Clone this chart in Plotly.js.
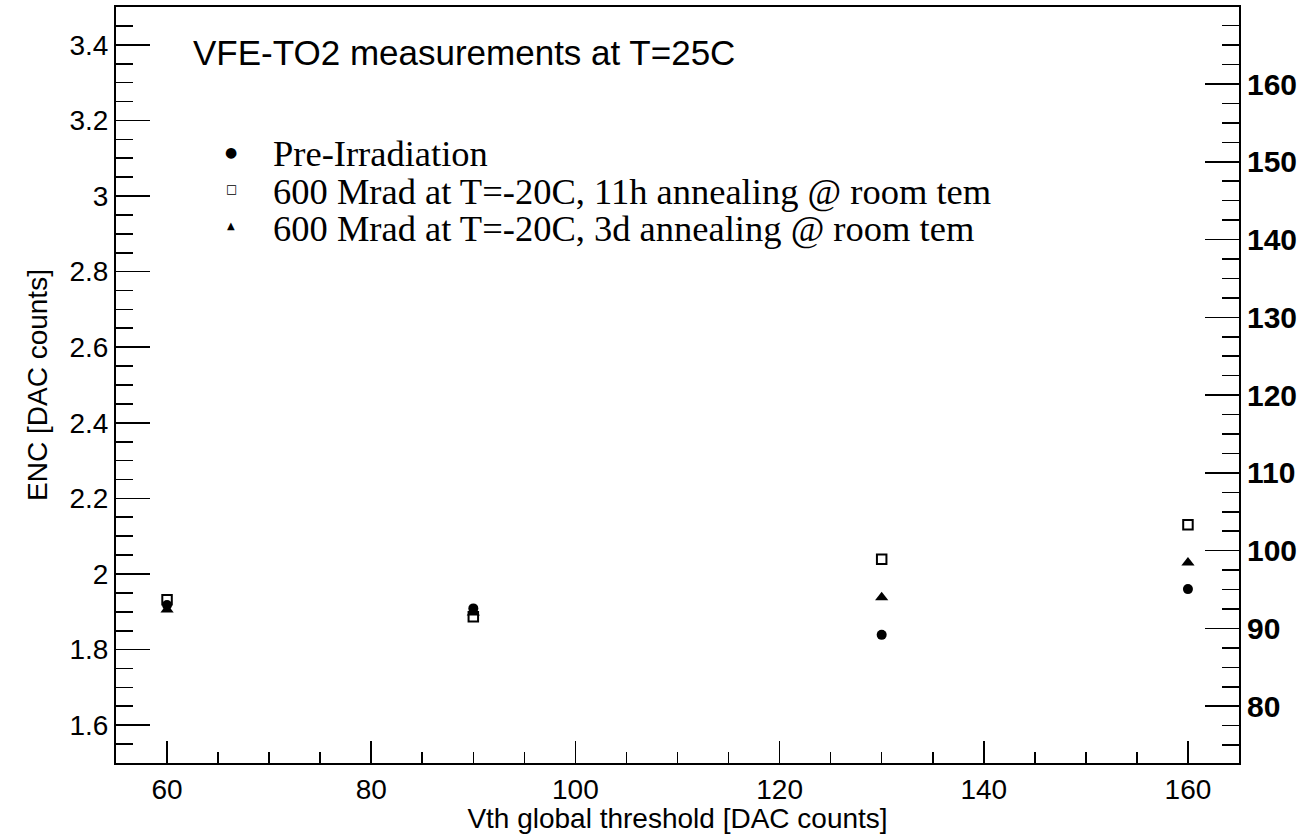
<!DOCTYPE html>
<html>
<head>
<meta charset="utf-8">
<script src="https://cdn.plot.ly/plotly-3.0.1.min.js"></script>
<style>
  html, body { margin: 0; padding: 0; background: #fff; }
  #plot { width: 1316px; height: 834px; }
</style>
</head>
<body>
<div id="plot"></div>
<script>
// Threshold scan points (Vth, DAC counts)
const vth = [60, 90, 130, 160];

// ENC in DAC counts for each condition
const encPre = [1.918, 1.909, 1.839, 1.960];
const enc11h = [1.932, 1.887, 2.039, 2.130];
const enc3d  = [1.906, 1.898, 1.938, 2.030];

// Legend labels
const seriesNames = [
  "Pre-Irradiation",
  "600 Mrad at T=-20C, 11h annealing @ room tem",
  "600 Mrad at T=-20C, 3d annealing @ room tem"
];
const legendKeys = ["\u25CF", "\u25A1", "\u25B2"];

const headline = "VFE-TO2 measurements at T=25C";
const xTitle = "Vth global threshold [DAC counts]";
const yTitle = "ENC [DAC counts]";

const SANS = "Liberation Sans, Arial, sans-serif";
const SERIF = "Liberation Serif, Times New Roman, serif";
const INK = "#000";

const traces = [
  {
    x: vth, y: encPre, name: seriesNames[0], type: "scatter", mode: "markers",
    marker: { symbol: "circle", size: 10, color: INK },
    showlegend: false
  },
  {
    x: vth, y: enc11h, name: seriesNames[1], type: "scatter", mode: "markers",
    marker: { symbol: "square-open", size: 9.5, color: INK, line: { width: 2, color: INK } },
    showlegend: false
  },
  {
    x: vth, y: enc3d, name: seriesNames[2], type: "scatter", mode: "markers",
    marker: { symbol: "triangle-up", size: 11.5, color: INK },
    showlegend: false
  },
  // keeps the secondary (electron) axis active
  { x: [], y: [], yaxis: "y2", type: "scatter", mode: "markers", showlegend: false, hoverinfo: "skip" }
];

// Plot area in pixels, used to place the in-frame texts
const L = 116, R = 1239, T = 7, B = 763;
const px = v => (v - L) / (R - L);
const py = v => (B - v) / (B - T);

const annotations = [
  {
    text: headline, xref: "paper", yref: "paper", x: px(191), y: py(52),
    xanchor: "left", yanchor: "middle", showarrow: false,
    font: { family: SANS, size: 35, color: INK }
  }
];
const rowY = [154, 191, 228];
const keySize = [14, 12, 10];
seriesNames.forEach((name, i) => {
  annotations.push({
    text: name, xref: "paper", yref: "paper", x: px(271), y: py(rowY[i]),
    xanchor: "left", yanchor: "middle", showarrow: false,
    font: { family: SERIF, size: 36.5, color: INK }
  });
  annotations.push({
    text: legendKeys[i], xref: "paper", yref: "paper", x: px(231), y: py(rowY[i] - 2),
    xanchor: "center", yanchor: "middle", showarrow: false,
    font: { family: "DejaVu Sans, sans-serif", size: keySize[i], color: INK }
  });
});

const axisBase = {
  showgrid: false, zeroline: false,
  showline: true, linecolor: INK, linewidth: 2,
  ticks: "inside", tickcolor: INK, tickwidth: 1.6,
  tickfont: { family: SANS, size: 28, color: INK },
  tickmode: "linear", tick0: 0
};

const layout = {
  width: 1316, height: 834,
  margin: { l: L, r: 1316 - R, t: T, b: 834 - B },
  paper_bgcolor: "#fff", plot_bgcolor: "#fff",
  showlegend: false,
  xaxis: Object.assign({}, axisBase, {
    range: [55, 165], dtick: 20, ticklen: 22, mirror: true,
    minor: { dtick: 5, ticklen: 11, ticks: "inside", tickcolor: INK, tickwidth: 1.6 },
    title: { text: xTitle, font: { family: SANS, size: 28, color: INK }, standoff: 2 }
  }),
  yaxis: Object.assign({}, axisBase, {
    range: [1.5, 3.5], dtick: 0.2, ticklen: 34, mirror: true,
    minor: { dtick: 0.05, ticklen: 17, ticks: "inside", tickcolor: INK, tickwidth: 1.6 },
    title: { text: yTitle, font: { family: SANS, size: 28, color: INK }, standoff: 14 }
  }),
  yaxis2: Object.assign({}, axisBase, {
    overlaying: "y", side: "right",
    range: [72.7, 169.9], dtick: 10, ticklen: 34,
    minor: { dtick: 2.5, ticklen: 17, ticks: "inside", tickcolor: INK, tickwidth: 1.6 },
    tickfont: { family: SANS, size: 30, color: INK, weight: "bold" }
  }),
  annotations: annotations
};

Plotly.newPlot("plot", traces, layout, { staticPlot: true, displayModeBar: false });
</script>
</body>
</html>
